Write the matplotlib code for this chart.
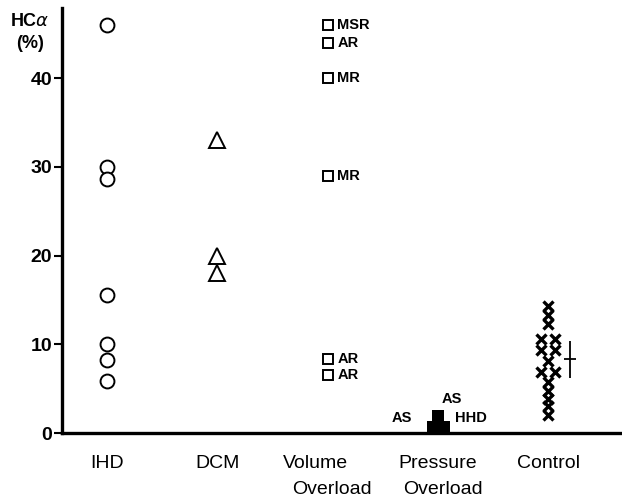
import matplotlib
matplotlib.use("Agg")
import matplotlib.pyplot as plt
from matplotlib import font_manager

categories = ["IHD", "DCM", "Volume\nOverload", "Pressure\nOverload", "Control"]
ihd = [46.0, 30.0, 28.6, 15.6, 10.0, 8.2, 5.9]
dcm = [33.0, 19.9, 18.0]
volume = [46.0, 44.0, 40.0, 29.0, 8.3, 6.5]
volume_labels = ["MSR", "AR", "MR", "MR", "AR", "AR"]
pressure = [0.7, 0.7, 1.9]
pressure_labels = ["AS", "HHD", "AS"]
control = [14.3, 13.3, 12.3, 10.6, 10.6, 9.4, 9.4, 8.1, 6.9, 6.9, 5.7, 4.7, 3.8, 3.0, 2.0]
control_mean = 8.3
control_sd = 2.1
yticks = [0, 10, 20, 30, 40]

# layout helpers (jitter within category)
pressure_jitter = [-0.05, 0.05, 0.0]
control_jitter = [0, 0, 0, -0.065, 0.065, -0.065, 0.065, 0, -0.065, 0.065, 0, 0, 0, 0, 0]

names = {f.name for f in font_manager.fontManager.ttflist}
fam = "Liberation Sans" if "Liberation Sans" in names else "DejaVu Sans"
tickfam = "Liberation Sans Narrow" if "Liberation Sans Narrow" in names else fam

fig = plt.figure(figsize=(6.22, 4.97), dpi=100)
ax = fig.add_axes([62 / 622, (497 - 433) / 497, (620 - 62) / 622, (433 - 8) / 497])
ax.set_xlim(0.59, 5.65)
ax.set_ylim(0, 47.9)

k = "black"
ax.plot([1] * len(ihd), ihd, "o", ms=10, mfc="white", mec=k, mew=1.4, clip_on=False)
ax.plot([2] * len(dcm), dcm, "^", ms=11, mfc="white", mec=k, mew=1.4, clip_on=False)
ax.plot([3] * len(volume), volume, "s", ms=7.5, mfc="white", mec=k, mew=1.4, clip_on=False)
for v, lab in zip(volume, volume_labels):
    ax.annotate(lab, (3, v), xytext=(7, 0), textcoords="offset points",
                ha="left", va="center", fontsize=10.5, fontweight="bold", family=fam)

px = [4 + j for j in pressure_jitter]
ax.plot(px, pressure, "s", ms=8.5, mfc=k, mec=k, mew=0, clip_on=False)
ax.annotate(pressure_labels[0], (4, pressure[0]), xytext=(-19, 6), textcoords="offset points",
            ha="right", va="center", fontsize=10.5, fontweight="bold", family=fam)
ax.annotate(pressure_labels[1], (4, pressure[1]), xytext=(12, 6), textcoords="offset points",
            ha="left", va="center", fontsize=10.5, fontweight="bold", family=fam)
ax.annotate(pressure_labels[2], (4, pressure[2]), xytext=(10, 12), textcoords="offset points",
            ha="center", va="center", fontsize=10.5, fontweight="bold", family=fam)

cx = [5 + j for j in control_jitter]
ax.plot(cx, control, "x", ms=7, mec=k, mew=2.4, clip_on=False)
ax.errorbar([5.2], [control_mean], yerr=[control_sd], fmt="none", ecolor=k,
            elinewidth=1.3, capsize=0)
ax.plot([5.2], [control_mean], "_", ms=9, mec=k, mew=1.3)

for s in ["top", "right"]:
    ax.spines[s].set_visible(False)
ax.spines["left"].set_linewidth(2.4)
ax.spines["bottom"].set_linewidth(2.4)
ax.set_yticks(yticks)
ax.set_yticklabels([str(t) for t in yticks], fontsize=14, fontweight="bold",
                   family=tickfam)
ax.tick_params(axis="y", direction="out", length=6, width=1.5, pad=1)
ax.set_xticks([])

# category labels
offs = {0: (0, 0), 1: (0, 0), 2: (-12, 4), 3: (0, 5), 4: (0, 0)}
for i, cat in enumerate(categories):
    lines = cat.split("\n")
    x = i + 1
    o1, o2 = offs[i]
    ax.annotate(lines[0], (x, 0), xycoords=("data", "data"), xytext=(o1 * 0.72, -22),
                textcoords="offset points", ha="center", va="center", fontsize=14, family=fam,
                annotation_clip=False)
    if len(lines) > 1:
        ax.annotate(lines[1], (x, 0), xycoords=("data", "data"), xytext=(o2 * 0.72, -41),
                    textcoords="offset points", ha="center", va="center", fontsize=14, family=fam,
                    annotation_clip=False)

fig.text(10 / 622, 1 - 21 / 497, "HC$\\alpha$", fontsize=13, fontweight="bold", family=fam,
         ha="left", va="center")
fig.text(30 / 622, 1 - 43 / 497, "(%)", fontsize=13, fontweight="bold", family=fam,
         ha="center", va="center")

fig.savefig("out.png", dpi=100)
